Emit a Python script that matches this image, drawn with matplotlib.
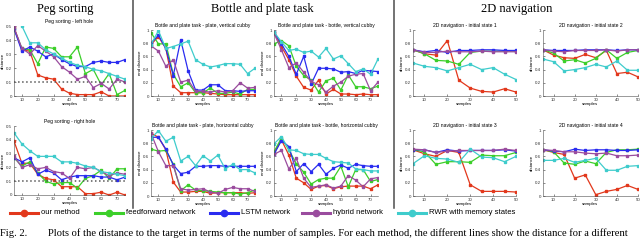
import matplotlib.pyplot as plt

# sample counts on the x axis
samples_long = [5, 10, 15, 20, 25, 30, 35, 40, 45, 50, 55, 60, 65, 70, 75]
samples_short = [5, 10, 15, 20, 25, 30, 35, 40, 45, 50]

methods = ['our method', 'feedforward network', 'LSTM network', 'hybrid network',
           'RWR with memory states']
colors = ['#e2381c', '#3ccf2a', '#2a2cf0', '#9a4c9e', '#3fcccc']

# each panel: series in the order of `methods`
peg_left = [
    [0.49, 0.33, 0.32, 0.15, 0.13, 0.12, 0.05, 0.02, 0.01, 0.01, 0.01, 0.03, 0.00, 0.00, 0.00],
    [0.48, 0.34, 0.33, 0.23, 0.35, 0.34, 0.28, 0.28, 0.35, 0.16, 0.19, 0.08, 0.16, 0.01, 0.04],
    [0.48, 0.32, 0.35, 0.32, 0.28, 0.30, 0.26, 0.23, 0.21, 0.21, 0.24, 0.25, 0.24, 0.24, 0.26],
    [0.49, 0.34, 0.30, 0.36, 0.32, 0.28, 0.21, 0.17, 0.12, 0.14, 0.06, 0.09, 0.05, 0.12, 0.10],
    [0.62, 0.50, 0.38, 0.38, 0.33, 0.30, 0.27, 0.24, 0.22, 0.21, 0.19, 0.18, 0.16, 0.14, 0.12],
]
peg_right = [
    [0.39, 0.23, 0.23, 0.15, 0.12, 0.11, 0.06, 0.06, 0.06, 0.01, 0.01, 0.02, 0.00, 0.02, 0.00],
    [0.27, 0.21, 0.24, 0.16, 0.10, 0.08, 0.09, 0.09, 0.05, 0.12, 0.14, 0.18, 0.12, 0.19, 0.19],
    [0.27, 0.24, 0.27, 0.15, 0.18, 0.16, 0.11, 0.13, 0.14, 0.14, 0.14, 0.13, 0.13, 0.11, 0.13],
    [0.28, 0.20, 0.22, 0.19, 0.20, 0.17, 0.16, 0.12, 0.20, 0.19, 0.20, 0.17, 0.14, 0.16, 0.15],
    [0.45, 0.37, 0.32, 0.28, 0.28, 0.28, 0.24, 0.24, 0.23, 0.21, 0.20, 0.17, 0.16, 0.15, 0.14],
]
plate_vertical = [
    [0.78, 0.90, 0.72, 0.15, 0.05, 0.05, 0.05, 0.05, 0.04, 0.03, 0.02, 0.02, 0.02, 0.02, 0.02],
    [0.96, 0.79, 0.79, 0.33, 0.14, 0.20, 0.05, 0.05, 0.12, 0.04, 0.04, 0.06, 0.03, 0.10, 0.10],
    [0.80, 0.92, 0.72, 0.31, 0.85, 0.38, 0.09, 0.09, 0.17, 0.17, 0.08, 0.08, 0.07, 0.08, 0.08],
    [0.76, 0.68, 0.45, 0.55, 0.21, 0.24, 0.07, 0.07, 0.06, 0.08, 0.06, 0.08, 0.20, 0.12, 0.13],
    [0.78, 0.99, 0.72, 0.75, 0.79, 0.83, 0.55, 0.48, 0.44, 0.46, 0.49, 0.49, 0.48, 0.34, 0.42],
]
bottle_vertical = [
    [0.97, 0.75, 0.55, 0.30, 0.13, 0.09, 0.24, 0.03, 0.10, 0.03, 0.03, 0.02, 0.03, 0.02, 0.02],
    [0.79, 0.84, 0.76, 0.45, 0.31, 0.24, 0.06, 0.23, 0.27, 0.09, 0.32, 0.14, 0.14, 0.11, 0.15],
    [0.97, 0.79, 0.60, 0.33, 0.60, 0.18, 0.42, 0.42, 0.41, 0.36, 0.37, 0.34, 0.39, 0.38, 0.37],
    [0.95, 0.70, 0.43, 0.50, 0.36, 0.22, 0.17, 0.06, 0.15, 0.21, 0.30, 0.33, 0.34, 0.08, 0.21],
    [0.97, 0.82, 0.69, 0.71, 0.66, 0.68, 0.59, 0.72, 0.56, 0.61, 0.49, 0.37, 0.41, 0.33, 0.56],
]
plate_horizontal = [
    [0.95, 0.89, 0.70, 0.21, 0.06, 0.06, 0.07, 0.07, 0.04, 0.05, 0.05, 0.05, 0.05, 0.04, 0.05],
    [0.71, 0.68, 0.69, 0.48, 0.08, 0.17, 0.09, 0.08, 0.07, 0.06, 0.05, 0.05, 0.03, 0.05, 0.09],
    [0.89, 0.89, 0.71, 0.47, 0.34, 0.36, 0.45, 0.45, 0.46, 0.46, 0.45, 0.45, 0.45, 0.45, 0.45],
    [0.95, 0.67, 0.46, 0.46, 0.11, 0.09, 0.10, 0.11, 0.06, 0.04, 0.10, 0.13, 0.11, 0.11, 0.07],
    [0.87, 0.99, 0.83, 0.89, 0.53, 0.60, 0.46, 0.61, 0.53, 0.62, 0.41, 0.48, 0.40, 0.40, 0.35],
]
bottle_horizontal = [
    [0.65, 0.85, 0.62, 0.27, 0.20, 0.10, 0.15, 0.16, 0.11, 0.14, 0.15, 0.15, 0.15, 0.11, 0.17],
    [0.67, 0.88, 0.70, 0.49, 0.36, 0.18, 0.25, 0.27, 0.27, 0.45, 0.14, 0.40, 0.40, 0.22, 0.25],
    [0.63, 0.84, 0.75, 0.37, 0.49, 0.37, 0.48, 0.33, 0.42, 0.47, 0.42, 0.48, 0.46, 0.45, 0.45],
    [0.63, 0.69, 0.41, 0.57, 0.27, 0.13, 0.15, 0.17, 0.12, 0.15, 0.31, 0.24, 0.14, 0.26, 0.28],
    [0.79, 0.90, 0.70, 0.69, 0.64, 0.63, 0.63, 0.57, 0.52, 0.51, 0.50, 0.41, 0.40, 0.38, 0.38],
]
nav_state1 = [
    [0.70, 0.64, 0.62, 0.84, 0.24, 0.12, 0.07, 0.06, 0.11, 0.06],
    [0.70, 0.64, 0.54, 0.53, 0.48, 0.66, 0.68, 0.68, 0.68, 0.68],
    [0.70, 0.67, 0.69, 0.66, 0.69, 0.69, 0.70, 0.70, 0.69, 0.69],
    [0.70, 0.66, 0.66, 0.68, 0.67, 0.67, 0.68, 0.67, 0.67, 0.67],
    [0.50, 0.45, 0.43, 0.38, 0.43, 0.48, 0.40, 0.43, 0.33, 0.25],
]
nav_state2 = [
    [0.70, 0.62, 0.58, 0.57, 0.63, 0.58, 0.69, 0.34, 0.36, 0.29],
    [0.70, 0.65, 0.53, 0.55, 0.50, 0.57, 0.70, 0.57, 0.66, 0.69],
    [0.70, 0.69, 0.69, 0.69, 0.70, 0.70, 0.70, 0.69, 0.70, 0.70],
    [0.70, 0.68, 0.67, 0.69, 0.69, 0.69, 0.70, 0.68, 0.70, 0.70],
    [0.56, 0.52, 0.38, 0.40, 0.43, 0.48, 0.44, 0.53, 0.39, 0.39],
]
nav_state3 = [
    [0.70, 0.64, 0.60, 0.69, 0.66, 0.17, 0.07, 0.07, 0.07, 0.06],
    [0.70, 0.67, 0.48, 0.52, 0.52, 0.51, 0.62, 0.61, 0.61, 0.66],
    [0.70, 0.70, 0.66, 0.70, 0.68, 0.69, 0.69, 0.69, 0.70, 0.68],
    [0.71, 0.70, 0.66, 0.68, 0.69, 0.69, 0.69, 0.69, 0.71, 0.69],
    [0.49, 0.61, 0.57, 0.56, 0.51, 0.71, 0.59, 0.58, 0.52, 0.60],
]
nav_state4 = [
    [0.70, 0.66, 0.63, 0.27, 0.32, 0.02, 0.07, 0.10, 0.16, 0.10],
    [0.70, 0.67, 0.50, 0.48, 0.53, 0.49, 0.66, 0.70, 0.70, 0.71],
    [0.70, 0.68, 0.67, 0.71, 0.69, 0.70, 0.70, 0.69, 0.69, 0.70],
    [0.70, 0.69, 0.67, 0.67, 0.65, 0.64, 0.65, 0.61, 0.61, 0.62],
    [0.54, 0.54, 0.57, 0.51, 0.54, 0.57, 0.39, 0.39, 0.45, 0.46],
]

W, H = 640, 240
fig = plt.figure(figsize=(6.4, 2.4), dpi=100)


def box(x0, x1, y0, y1):
    # pixel box -> figure fraction
    return [x0 / W, 1 - y1 / H, (x1 - x0) / W, (y1 - y0) / H]


def panel(rect, title, ylabel, x, series, xmax, yticks, ylim, ref=None):
    ax = fig.add_axes(rect)
    for s, c in zip(series, colors):
        ax.plot(x, s, color=c, lw=0.9, marker='s', ms=1.6)
    if ref is not None:
        ax.axhline(ref, color='0.35', lw=1.1, ls=':')
    ax.set_xlim(5, xmax)
    ax.set_ylim(*ylim)
    ax.set_xticks(list(range(10, xmax + 1, 10)))
    ax.set_yticks(yticks)
    ax.set_yticklabels(['%g' % t for t in yticks])
    for sp in ['top', 'right']:
        ax.spines[sp].set_visible(False)
    for sp in ['left', 'bottom']:
        ax.spines[sp].set_linewidth(0.4)
        ax.spines[sp].set_color('0.3')
    ax.tick_params(labelsize=3.2, length=1.2, width=0.4, pad=1.2, direction='in', colors='0.2')
    ax.set_title(title, fontsize=3.6, pad=2)
    ax.set_xlabel('samples', fontsize=3.2, labelpad=0.5)
    ax.set_ylabel(ylabel, fontsize=3.2, labelpad=1)
    return ax


plt.rcParams['font.family'] = ['Liberation Sans', 'DejaVu Sans']

yt_peg = [0, 0.1, 0.2, 0.3, 0.4, 0.5]
yt = [0, 0.2, 0.4, 0.6, 0.8, 1]

panel(box(14, 125, 26, 96), 'Peg sorting - left hole', 'distance', samples_long, peg_left, 75, yt_peg, (0, 0.5), 0.1)
panel(box(14, 125, 126, 195), 'Peg sorting - right hole', 'distance', samples_long, peg_right, 75, yt_peg, (0, 0.5), 0.1)

panel(box(151, 255, 30, 96), 'Bottle and plate task - plate, vertical cubby', 'end distance', samples_long, plate_vertical, 75, yt, (0, 1))
panel(box(274, 378, 30, 96), 'Bottle and plate task - bottle, vertical cubby', 'end distance', samples_long, bottle_vertical, 75, yt, (0, 1))
panel(box(151, 255, 130, 196), 'Bottle and plate task - plate, horizontal cubby', 'end distance', samples_long, plate_horizontal, 75, yt, (0, 1))
panel(box(274, 378, 130, 196), 'Bottle and plate task - bottle, horizontal cubby', 'end distance', samples_long, bottle_horizontal, 75, yt, (0, 1))

panel(box(413, 516, 30, 96), '2D navigation - initial state 1', 'distance', samples_short, nav_state1, 50, yt, (0, 1))
panel(box(543, 638, 30, 96), '2D navigation - initial state 2', 'distance', samples_short, nav_state2, 50, yt, (0, 1))
panel(box(413, 516, 130, 196), '2D navigation - initial state 3', 'distance', samples_short, nav_state3, 50, yt, (0, 1))
panel(box(543, 638, 130, 196), '2D navigation - initial state 4', 'distance', samples_short, nav_state4, 50, yt, (0, 1))

# group headings and separators
serif = ['Liberation Serif', 'DejaVu Serif']
fig.text(65 / W, 1 - 9 / H, 'Peg sorting', family=serif, fontsize=9, ha='center', va='center')
fig.text(262 / W, 1 - 9 / H, 'Bottle and plate task', family=serif, fontsize=9, ha='center', va='center')
fig.text(517 / W, 1 - 9 / H, '2D navigation', family=serif, fontsize=9, ha='center', va='center')
for xs in [133, 394]:
    fig.add_artist(plt.Line2D([xs / W, xs / W], [1 - 208 / H, 1], color='0.3', lw=1.1))

# legend row, placed entry by entry
legend_x = [10, 95, 210, 302, 398]
ly = 1 - 213 / H
for x0, c, name in zip(legend_x, colors, methods):
    fig.add_artist(plt.Line2D([x0 / W, (x0 + 28) / W], [ly, ly], color=c, lw=2.2))
    fig.add_artist(plt.Line2D([(x0 + 14) / W], [ly], color=c, marker='o', ms=4.5))
    fig.text((x0 + 31) / W, ly, name, fontsize=5.5, ha='left', va='center')

fig.text(0, 1 - 233 / H, 'Fig. 2.', family=serif, fontsize=7.6, ha='left', va='center')
fig.text(48 / W, 1 - 233 / H,
         'Plots of the distance to the target in terms of the number of samples. For each method, '
         'the different lines show the distance for a different',
         family=serif, fontsize=7.6, ha='left', va='center')

fig.savefig('out.png', dpi=100)
